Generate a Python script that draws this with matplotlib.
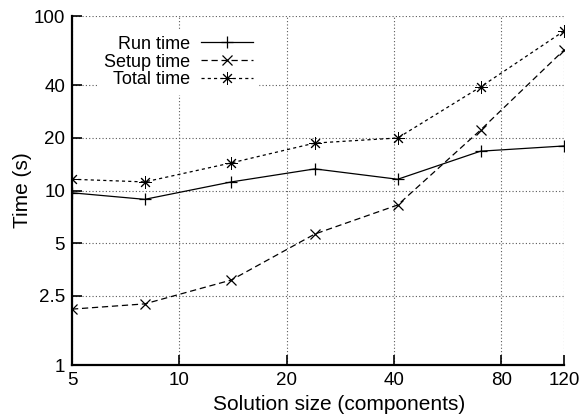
import matplotlib
matplotlib.use("Agg")
import matplotlib.pyplot as plt
from matplotlib.ticker import FixedLocator, FixedFormatter, NullLocator

plt.rcParams["font.family"] = ["Liberation Sans", "DejaVu Sans"]

# data (log-log)
size = [5, 8, 14, 24, 41, 70, 120]
run_time = [9.7, 8.9, 11.2, 13.3, 11.6, 16.8, 18.0]
setup_time = [2.09, 2.24, 3.07, 5.63, 8.26, 22.2, 63.8]
total_time = [11.6, 11.2, 14.4, 18.7, 20.0, 39.2, 82.0]

x_ticks = [5, 10, 20, 40, 80, 120]
y_ticks = [1, 2.5, 5, 10, 20, 40, 100]
y_tick_labels = ["1", "2.5", "5", "10", "20", "40", "100"]

fig = plt.figure(figsize=(5.82, 4.17), dpi=100)
ax = fig.add_axes([0.1237, 0.1247, 0.969 - 0.1237, 0.9616 - 0.1247])

ax.plot(size, run_time, color="black", lw=0.9, ls="-",
        marker="+", ms=9, mew=0.9, label="Run time")
ax.plot(size, setup_time, color="black", lw=0.9, ls=(0, (5, 3)),
        marker="x", ms=7, mew=0.9, label="Setup time")
ax.plot(size, total_time, color="black", lw=0.9, ls=(0, (2.5, 2.5)),
        marker=(8, 2, 0), ms=9, mew=0.7, label="Total time")

ax.set_xscale("log")
ax.set_yscale("log")
ax.set_xlim(5, 120)
ax.set_ylim(1, 100)

ax.xaxis.set_major_locator(FixedLocator(x_ticks))
ax.xaxis.set_major_formatter(FixedFormatter([str(v) for v in x_ticks]))
ax.xaxis.set_minor_locator(NullLocator())
ax.yaxis.set_major_locator(FixedLocator(y_ticks))
ax.yaxis.set_major_formatter(FixedFormatter(y_tick_labels))
ax.yaxis.set_minor_locator(NullLocator())

ax.grid(True, color="0.35", ls=(0, (1, 2)), lw=0.8)
ax.tick_params(direction="in", length=7, width=1.2, labelsize=13.5,
               pad=5, colors="black")
for side in ["top", "right"]:
    ax.spines[side].set_visible(False)
for side in ["left", "bottom"]:
    ax.spines[side].set_linewidth(1.6)

ax.set_xlabel("Solution size (components)", fontsize=15)
ax.xaxis.set_label_coords(0.542, -0.085)
ax.set_ylabel("Time (s)", fontsize=15, labelpad=1)

leg = ax.legend(loc="upper left", bbox_to_anchor=(0.035, 0.985), frameon=True,
                markerfirst=False, fontsize=13, handlelength=2.9,
                borderpad=0.3, labelspacing=0.05, handletextpad=0.6)
leg.get_frame().set_edgecolor("white")
leg.get_frame().set_facecolor("white")
leg.get_frame().set_alpha(1.0)
for t in leg.get_texts():
    t.set_ha("right")
leg._legend_box.align = "right"

fig.savefig("out.png", dpi=100)
